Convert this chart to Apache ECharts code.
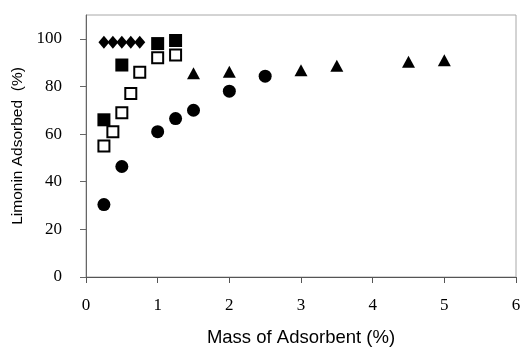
<!DOCTYPE html>
<html>
<head>
<meta charset="utf-8">
<style>
  html, body { margin: 0; padding: 0; background: #fff; }
  #main { width: 523px; height: 348px; }
</style>
</head>
<body>
<div id="main"></div>
<script src="https://cdn.jsdelivr.net/npm/echarts@6/dist/echarts.min.js"></script>
<script>
  // [mass %, adsorbed %]
  var diamonds = [[0.25, 98.6], [0.375, 98.6], [0.5, 98.6], [0.625, 98.6], [0.75, 98.6]];
  var filledSquares = [[0.25, 66], [0.5, 89], [1.0, 98], [1.25, 99.3]];
  var openSquares = [[0.25, 55], [0.375, 61], [0.5, 69], [0.625, 77], [0.75, 86], [1.0, 92], [1.25, 93.2]];
  var circles = [[0.25, 30.4], [0.5, 46.4], [1.0, 61], [1.25, 66.5], [1.5, 70], [2.0, 78], [2.5, 84.3]];
  var triangles = [[1.5, 85.5], [2.0, 86.2], [3.0, 86.8], [3.5, 88.7], [4.5, 90.4], [5.0, 91]];
  var yTicks = [0, 20, 40, 60, 80, 100];

  var chartDom = document.getElementById('main');
  var myChart = echarts.init(chartDom);
  var option;

  var serif = '"Liberation Serif", "DejaVu Serif", serif';
  var sans = '"Liberation Sans", Arial, sans-serif';

  option = {
    animation: false,
    grid: {
      left: 86,
      right: 7,
      top: 15,
      bottom: 71,
      outerBoundsMode: 'none',
      containLabel: false,
      show: true,
      borderColor: '#a8a8a8',
      borderWidth: 1
    },
    xAxis: {
      type: 'value',
      min: 0,
      max: 6,
      interval: 1,
      name: 'Mass of Adsorbent (%)',
      nameLocation: 'middle',
      nameGap: 51,
      nameTextStyle: { fontFamily: sans, fontSize: 18.5, color: '#000' },
      axisLine: { lineStyle: { color: '#555', width: 1 } },
      axisTick: { show: true, inside: false, length: 6, lineStyle: { color: '#555' } },
      axisLabel: { fontFamily: serif, fontSize: 17, color: '#000', margin: 20 },
      splitLine: { show: false }
    },
    yAxis: {
      type: 'value',
      min: 0,
      max: 110,
      name: 'Limonin Adsorbed  (%)',
      nameLocation: 'middle',
      nameGap: 58,
      nameTextStyle: { fontFamily: sans, fontSize: 15.5, color: '#000' },
      axisLine: { show: true, lineStyle: { color: '#666', width: 1 } },
      axisTick: { show: true, length: 6, customValues: yTicks, lineStyle: { color: '#666' } },
      axisLabel: { fontFamily: serif, fontSize: 17, color: '#000', margin: 24, customValues: yTicks },
      splitLine: { show: false }
    },
    series: [
      {
        type: 'scatter',
        data: diamonds,
        symbol: 'diamond',
        symbolSize: [11, 13],
        itemStyle: { color: '#000', opacity: 1 }
      },
      {
        type: 'scatter',
        data: filledSquares,
        symbol: 'rect',
        symbolSize: 13,
        itemStyle: { color: '#000', opacity: 1 }
      },
      {
        type: 'scatter',
        data: openSquares,
        symbol: 'rect',
        symbolSize: 11,
        itemStyle: { color: '#fff', borderColor: '#000', borderWidth: 2, opacity: 1 }
      },
      {
        type: 'scatter',
        data: circles,
        symbol: 'circle',
        symbolSize: 13,
        itemStyle: { color: '#000', opacity: 1 }
      },
      {
        type: 'scatter',
        data: triangles,
        symbol: 'triangle',
        symbolSize: [13, 12],
        itemStyle: { color: '#000', opacity: 1 }
      }
    ]
  };

  option && myChart.setOption(option);

  window.onresize = function () {
    myChart.resize();
  };
</script>
</body>
</html>
